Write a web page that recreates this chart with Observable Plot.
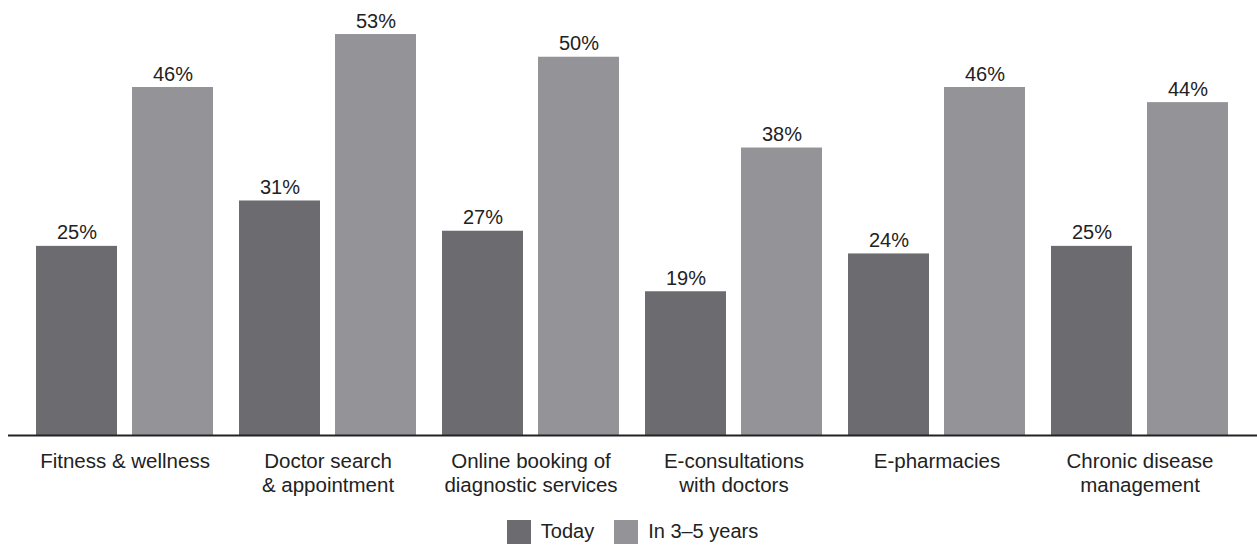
<!DOCTYPE html>
<html>
<head>
<meta charset="utf-8">
<script src="https://cdn.jsdelivr.net/npm/d3@7"></script>
<script src="https://cdn.jsdelivr.net/npm/@observablehq/plot@0.6"></script>
<style>
  html, body { margin: 0; padding: 0; background: #fff; }
  body { width: 1257px; font-family: "Liberation Sans", Arial, Helvetica, sans-serif; color: #222; }
  #legend { display: flex; justify-content: center; margin-top: 10px; margin-left: 28px; }
</style>
</head>
<body>
<div id="chart"></div>
<div id="legend"></div>
<script>
const categories = [
  "Fitness & wellness",
  "Doctor search\n& appointment",
  "Online booking of\ndiagnostic services",
  "E-consultations\nwith doctors",
  "E-pharmacies",
  "Chronic disease\nmanagement"
];
const seriesNames = ["Today", "In 3–5 years"];
const todayValues = [25, 31, 27, 19, 24, 25];
const futureValues = [46, 53, 50, 38, 46, 44];
const seriesColors = ["#6c6c70", "#949498"];

const today = categories.map((c, i) => ({category: c, series: seriesNames[0], value: todayValues[i]}));
const future = categories.map((c, i) => ({category: c, series: seriesNames[1], value: futureValues[i]}));

const font = "\"Liberation Sans\", Arial, Helvetica, sans-serif";

const chart = Plot.plot({
  width: 1257,
  height: 505,
  marginLeft: 8,
  marginRight: 0,
  marginTop: 0,
  marginBottom: 70,
  style: {fontFamily: font, fontSize: "20px", color: "#222", background: "#fff"},
  x: {domain: categories, paddingInner: 0.1257, paddingOuter: 0.13, label: null},
  y: {domain: [0, 57.5], axis: null},
  color: {domain: seriesNames, range: seriesColors},
  marks: [
    Plot.barY(today, {x: "category", y: "value", fill: "series", insetRight: 96}),
    Plot.barY(future, {x: "category", y: "value", fill: "series", insetLeft: 96}),
    Plot.text(today, {x: "category", y: "value", text: d => d.value + "%", dx: -48, dy: -7, lineAnchor: "bottom", fill: "#222", fontSize: 20}),
    Plot.text(future, {x: "category", y: "value", text: d => d.value + "%", dx: 48, dy: -7, lineAnchor: "bottom", fill: "#222", fontSize: 20}),
    Plot.ruleY([0], {stroke: "#222", strokeWidth: 2}),
    Plot.axisX({tickSize: 0, tickPadding: 16, fontSize: 20.5, lineHeight: 1.15, fill: "#222", label: null})
  ]
});
document.getElementById("chart").appendChild(chart);

const legend = Plot.legend({
  color: {domain: seriesNames, range: seriesColors},
  legend: "swatches",
  swatchSize: 24,
  style: {fontFamily: font, fontSize: "20px", color: "#222"}
});
document.getElementById("legend").appendChild(legend);
</script>
</body>
</html>
